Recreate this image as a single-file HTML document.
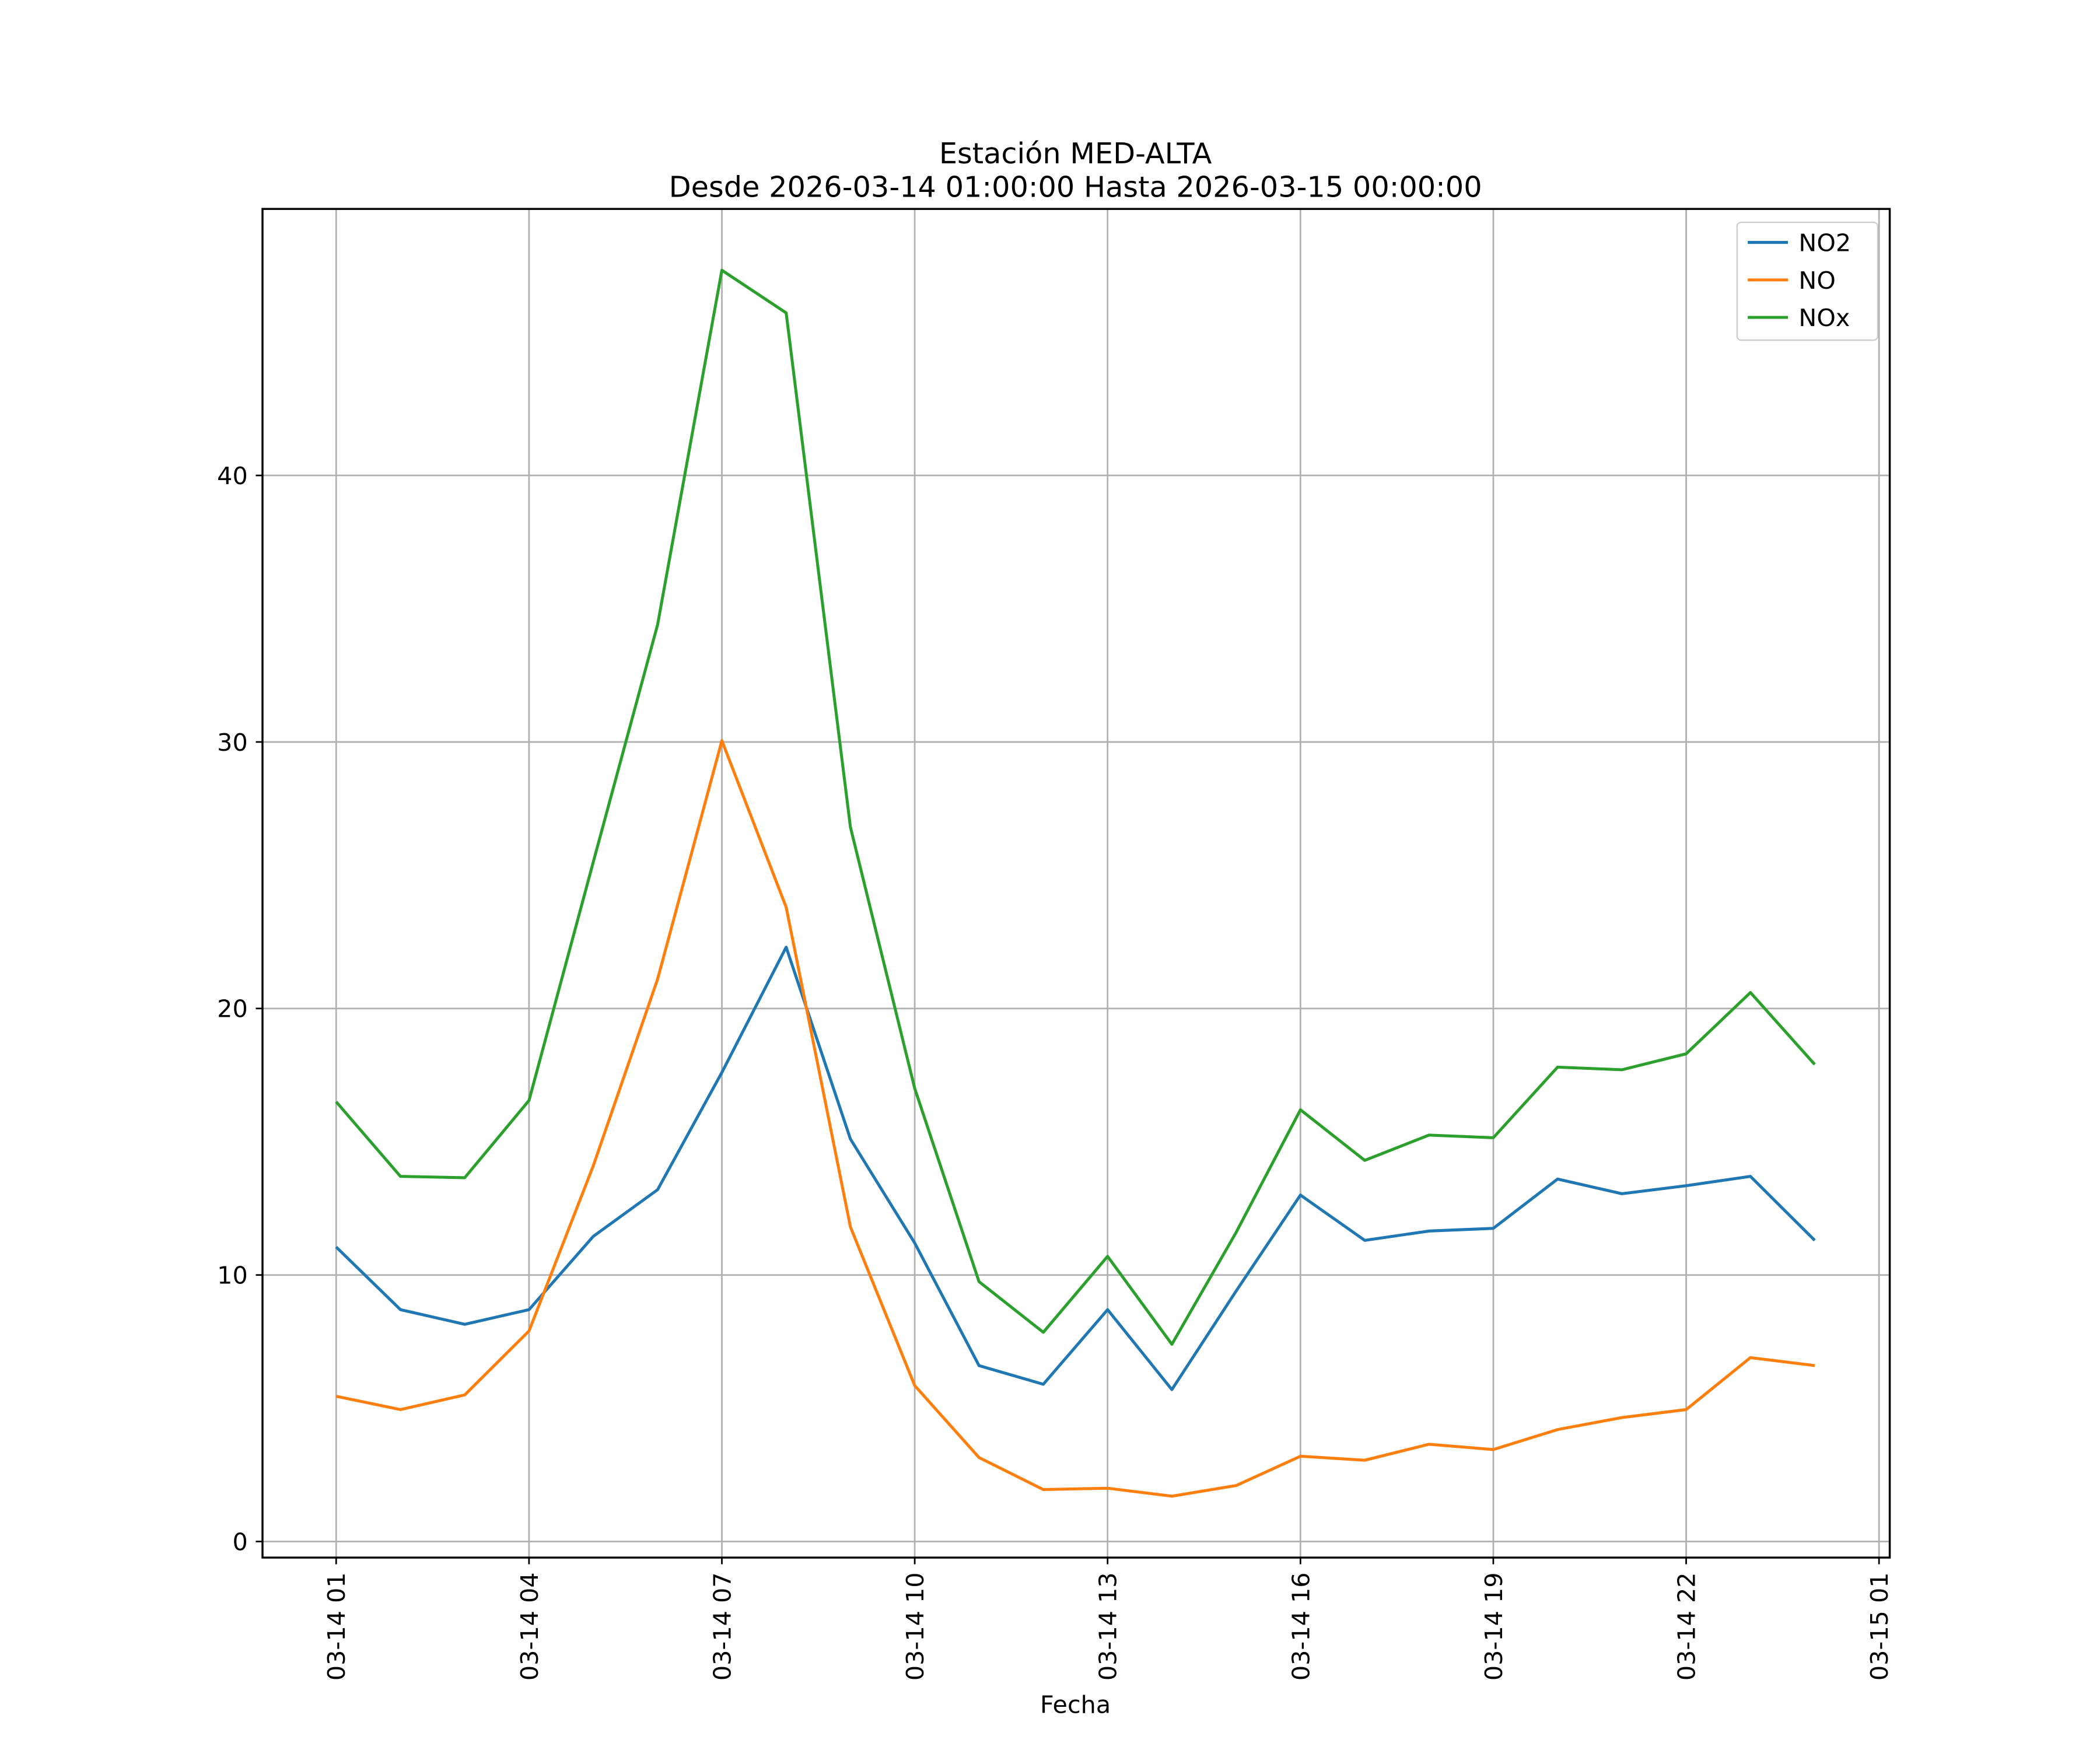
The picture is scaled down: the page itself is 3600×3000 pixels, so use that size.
<!DOCTYPE html>
<html><head><meta charset="utf-8"><style>
html,body{margin:0;padding:0;background:#fff;}
svg{display:block;font-family:"DejaVu Sans","Liberation Sans",sans-serif;}
</style></head><body>
<svg id="chart" width="3600" height="3000" viewBox="0 0 1568 1306.67" preserveAspectRatio="none" xmlns="http://www.w3.org/2000/svg">
<rect width="1568" height="1307" fill="#fff"/>
<text x="803" y="122" text-anchor="middle" font-size="21.5">Estación MED-ALTA</text>
<text x="803" y="147" text-anchor="middle" font-size="21.5">Desde 2026-03-14 01:00:00 Hasta 2026-03-15 00:00:00</text>
<g id="grid"></g>
<g id="series"></g>
<rect x="196" y="156" width="1215" height="1007" fill="none" stroke="#000" stroke-width="1.5"/>
<g id="axes"></g>
<text x="803" y="1279" text-anchor="middle" font-size="18">Fecha</text>
<g id="legend">
<rect x="1297" y="166" width="105" height="88" fill="#fff" stroke="#ccc" rx="3"/>
</g>
</svg>
<script>
const hours = [1,2,3,4,5,6,7,8,9,10,11,12,13,14,15,16,17,18,19,20,21,22,23,24];
const no2 = [11.05,8.7,8.15,8.7,11.45,13.2,17.6,22.3,15.1,11.2,6.6,5.9,8.7,5.7,9.4,13.0,11.3,11.65,11.75,13.6,13.05,13.35,13.7,11.3];
const no = [5.45,4.95,5.5,7.9,14.1,21.1,30.05,23.8,11.8,5.85,3.15,1.95,2.0,1.7,2.1,3.2,3.05,3.65,3.45,4.2,4.65,4.95,6.9,6.6];
const nox = [16.5,13.7,13.65,16.55,25.5,34.4,47.7,46.1,26.8,17.0,9.75,7.85,10.7,7.4,11.6,16.2,14.3,15.25,15.15,17.8,17.7,18.3,20.6,17.9];
const yTicks = [0,10,20,30,40];
const xTickHours = [1,4,7,10,13,16,19,22,25];
const xTickLabels = ["03-14 01","03-14 04","03-14 07","03-14 10","03-14 13","03-14 16","03-14 19","03-14 22","03-15 01"];

const NS="http://www.w3.org/2000/svg";
const xs = h => 251 + (h-1)*48;
const ys = v => 1151 - v*19.9;
function mk(tag, attrs, parent){const e=document.createElementNS(NS,tag);for(const k in attrs)e.setAttribute(k,attrs[k]);parent.appendChild(e);return e;}
const grid=document.getElementById('grid'), axes=document.getElementById('axes'), ser=document.getElementById('series');
yTicks.forEach(v=>{
  const y=ys(v);
  const g=mk('line',{x1:196,x2:1411,y1:y,y2:y,stroke:'#b0b0b0','stroke-width':1.2},grid);
  
  
  mk('line',{x1:191,x2:196,y1:y,y2:y,stroke:'#000','stroke-width':1.2},axes);
  const t=mk('text',{x:185,y:y+6.5,'text-anchor':'end','font-size':18},axes);
  t.textContent=v;
  
  
});
xTickHours.forEach((h,i)=>{
  const x=xs(h);
  const g=mk('line',{x1:x,x2:x,y1:156,y2:1163,stroke:'#b0b0b0','stroke-width':1.2},grid);
  
  
  mk('line',{x1:x,x2:x,y1:1163,y2:1168,stroke:'#000','stroke-width':1.2},axes);
  const t=mk('text',{x:0,y:0,'text-anchor':'end','font-size':18,transform:`translate(${x+6.5},1174) rotate(-90)`},axes);
  t.textContent=xTickLabels[i];
  
  
});
const series=[["no2-line",no2,"#1f77b4","NO2"],["no-line",no,"#ff7f0e","NO"],["nox-line",nox,"#2ca02c","NOx"]];
const leg=document.getElementById('legend');
series.forEach(([name,vals,col,lab],i)=>{
  const p=mk('polyline',{points:vals.map((v,j)=>xs(hours[j])+','+ys(v)).join(' '),fill:'none',stroke:col,'stroke-width':2.2,'stroke-linejoin':'round'},ser);
  
  
  const ly=181+i*28;
  const l=mk('line',{x1:1305,x2:1335,y1:ly,y2:ly,stroke:col,'stroke-width':2.2},leg);
  
  
  const t=mk('text',{x:1343,y:ly+6.5,'font-size':18},leg);
  t.textContent=lab;
  
  
});
</script>
</body></html>
